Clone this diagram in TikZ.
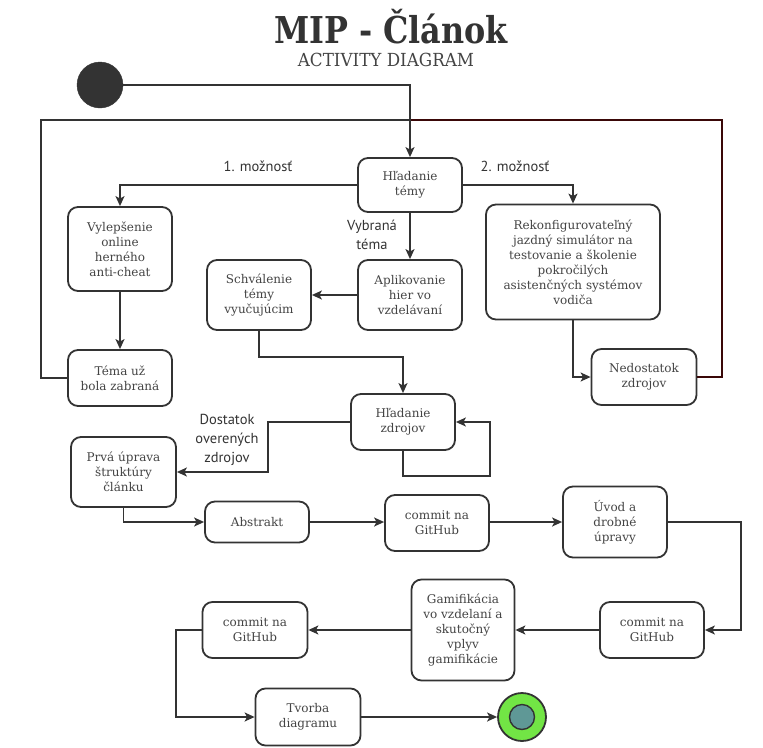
\documentclass[tikz,border=0pt]{standalone}
\usepackage{fontspec}
\setmainfont{DejaVu Serif}
\newfontfamily\labfont{PT Sans}
\usetikzlibrary{arrows.meta}
\definecolor{ink}{HTML}{333333}
\definecolor{txt}{HTML}{444444}
\definecolor{darkred}{HTML}{3A0808}
\definecolor{endgreen}{HTML}{72E545}
\definecolor{endteal}{HTML}{5F9896}
\tikzset{
  box/.style={draw=ink, line width=1.8, rounded corners=10, fill=white, text=txt,
    align=center, inner sep=0, font=\fontsize{12}{15}\selectfont},
  flow/.style={draw=ink, line width=1.6, -{Stealth[length=10,width=9,inset=2.5]}},
  plain/.style={draw=ink, line width=1.6},
  lab/.style={text=ink, align=center, font=\labfont\fontsize{14.5}{19}\selectfont}
}
\begin{document}
\begin{tikzpicture}[x=1pt,y=-1pt]
\useasboundingbox (0,0) rectangle (763,747);
% title
\node (title) at (391,27) {\fontsize{37}{40}\selectfont\bfseries\color{ink}\scalebox{0.86}[1]{MIP - Článok}};
\node (sub) at (386,60) {\fontsize{18}{20}\selectfont\color{txt}\scalebox{0.93}[1]{ACTIVITY DIAGRAM}};
% start
\node (start) [circle, fill=ink, draw=ink, minimum size=46, inner sep=0] at (100,85) {};
% boxes
\node (ht) [box, minimum width=104, minimum height=54] at (410,185) {Hľadanie\\témy};
\node (vyl) [box, minimum width=104, minimum height=84] at (120,249) {Vylepšenie\\online\\herného\\anti-cheat};
\node (tema) [box, minimum width=104, minimum height=56] at (120,378) {Téma už\\bola zabraná};
\node (apl) [box, minimum width=104, minimum height=70] at (410,295) {Aplikovanie\\hier vo\\vzdelávaní};
\node (sch) [box, minimum width=104, minimum height=70] at (259,295) {Schválenie\\témy\\vyučujúcim};
\node (rek) [box, minimum width=174, minimum height=115] at (573,262) {Rekonfigurovateľný\\jazdný simulátor na\\testovanie a školenie\\pokročilých\\asistenčných systémov\\vodiča};
\node (ned) [box, minimum width=105, minimum height=56] at (644,377) {Nedostatok\\zdrojov};
\node (hz) [box, minimum width=104, minimum height=56] at (403,422) {Hľadanie\\zdrojov};
\node (prva) [box, minimum width=105, minimum height=70] at (123.5,472) {Prvá úprava\\štruktúry\\článku};
\node (abs) [box, minimum width=104, minimum height=41] at (257,522) {Abstrakt};
\node (c1) [box, minimum width=104, minimum height=56] at (437,523) {commit na\\GitHub};
\node (uvod) [box, minimum width=104, minimum height=71] at (615,522) {Úvod a\\drobné\\úpravy};
\node (c2) [box, minimum width=104, minimum height=56] at (652,630) {commit na\\GitHub};
\node (gam) [box, minimum width=103, minimum height=101] at (463,630) {Gamifikácia\\vo vzdelaní a\\skutočný\\vplyv\\gamifikácie};
\node (c3) [box, minimum width=105, minimum height=56] at (255,630) {commit na\\GitHub};
\node (tv) [box, minimum width=105, minimum height=57] at (308,717) {Tvorba\\diagramu};
% end
\node (endo) [circle, fill=endgreen, draw=ink, line width=1.8, minimum size=48, inner sep=0] at (522,717) {};
\node (endi) [circle, fill=endteal, draw=ink, line width=1.4, minimum size=25, inner sep=0] at (522,717) {};
% labels
\node (l1) [lab] at (258,166) {1. možnosť};
\node (l2) [lab] at (515,166) {2. možnosť};
\node (l3) [lab] at (372,235) {Vybraná\\téma};
\node (l4) [lab] at (227,440) {Dostatok\\overených\\zdrojov};
% loops back
\coordinate (j) at (ht.north |- 0,120);
\draw[plain] (tema.west) -- (41,378) -- (41,120) -- (j);
\draw[draw=darkred, line width=1.6] (ned.east) -- (722,377) -- (722,120) -- (j);
% connectors
\draw[flow] (start.east) -| (ht.north);
\draw[flow] (ht.west) -| (vyl.north);
\draw[flow] (ht.east) -| (rek.north);
\draw[flow] (vyl.south) -- (tema.north);
\draw[flow] (ht.south) -- (apl.north);
\draw[flow] (apl.west) -- (sch.east);
\draw[flow] (sch.south) -- (259,357) -| (hz.north);
\draw[flow] (rek.south) |- (ned.west);
\draw[flow] (hz.south) -- (403,476) -- (490,476) |- (hz.east);
\draw[flow] (hz.west) -- (268,422) |- (prva.east);
\draw[flow] (prva.south) |- (abs.west);
\draw[flow] (abs.east) -- (c1.west |- abs.east);
\draw[flow] (c1.east |- abs.east) -- (uvod.west);
\draw[flow] (uvod.east) -- (741,522) |- (c2.east);
\draw[flow] (c2.west) -- (gam.east);
\draw[flow] (gam.west) -- (c3.east);
\draw[flow] (c3.west) -- (176,630) |- (tv.west);
\draw[flow] (tv.east) -- (endo.west);
\end{tikzpicture}
\end{document}
